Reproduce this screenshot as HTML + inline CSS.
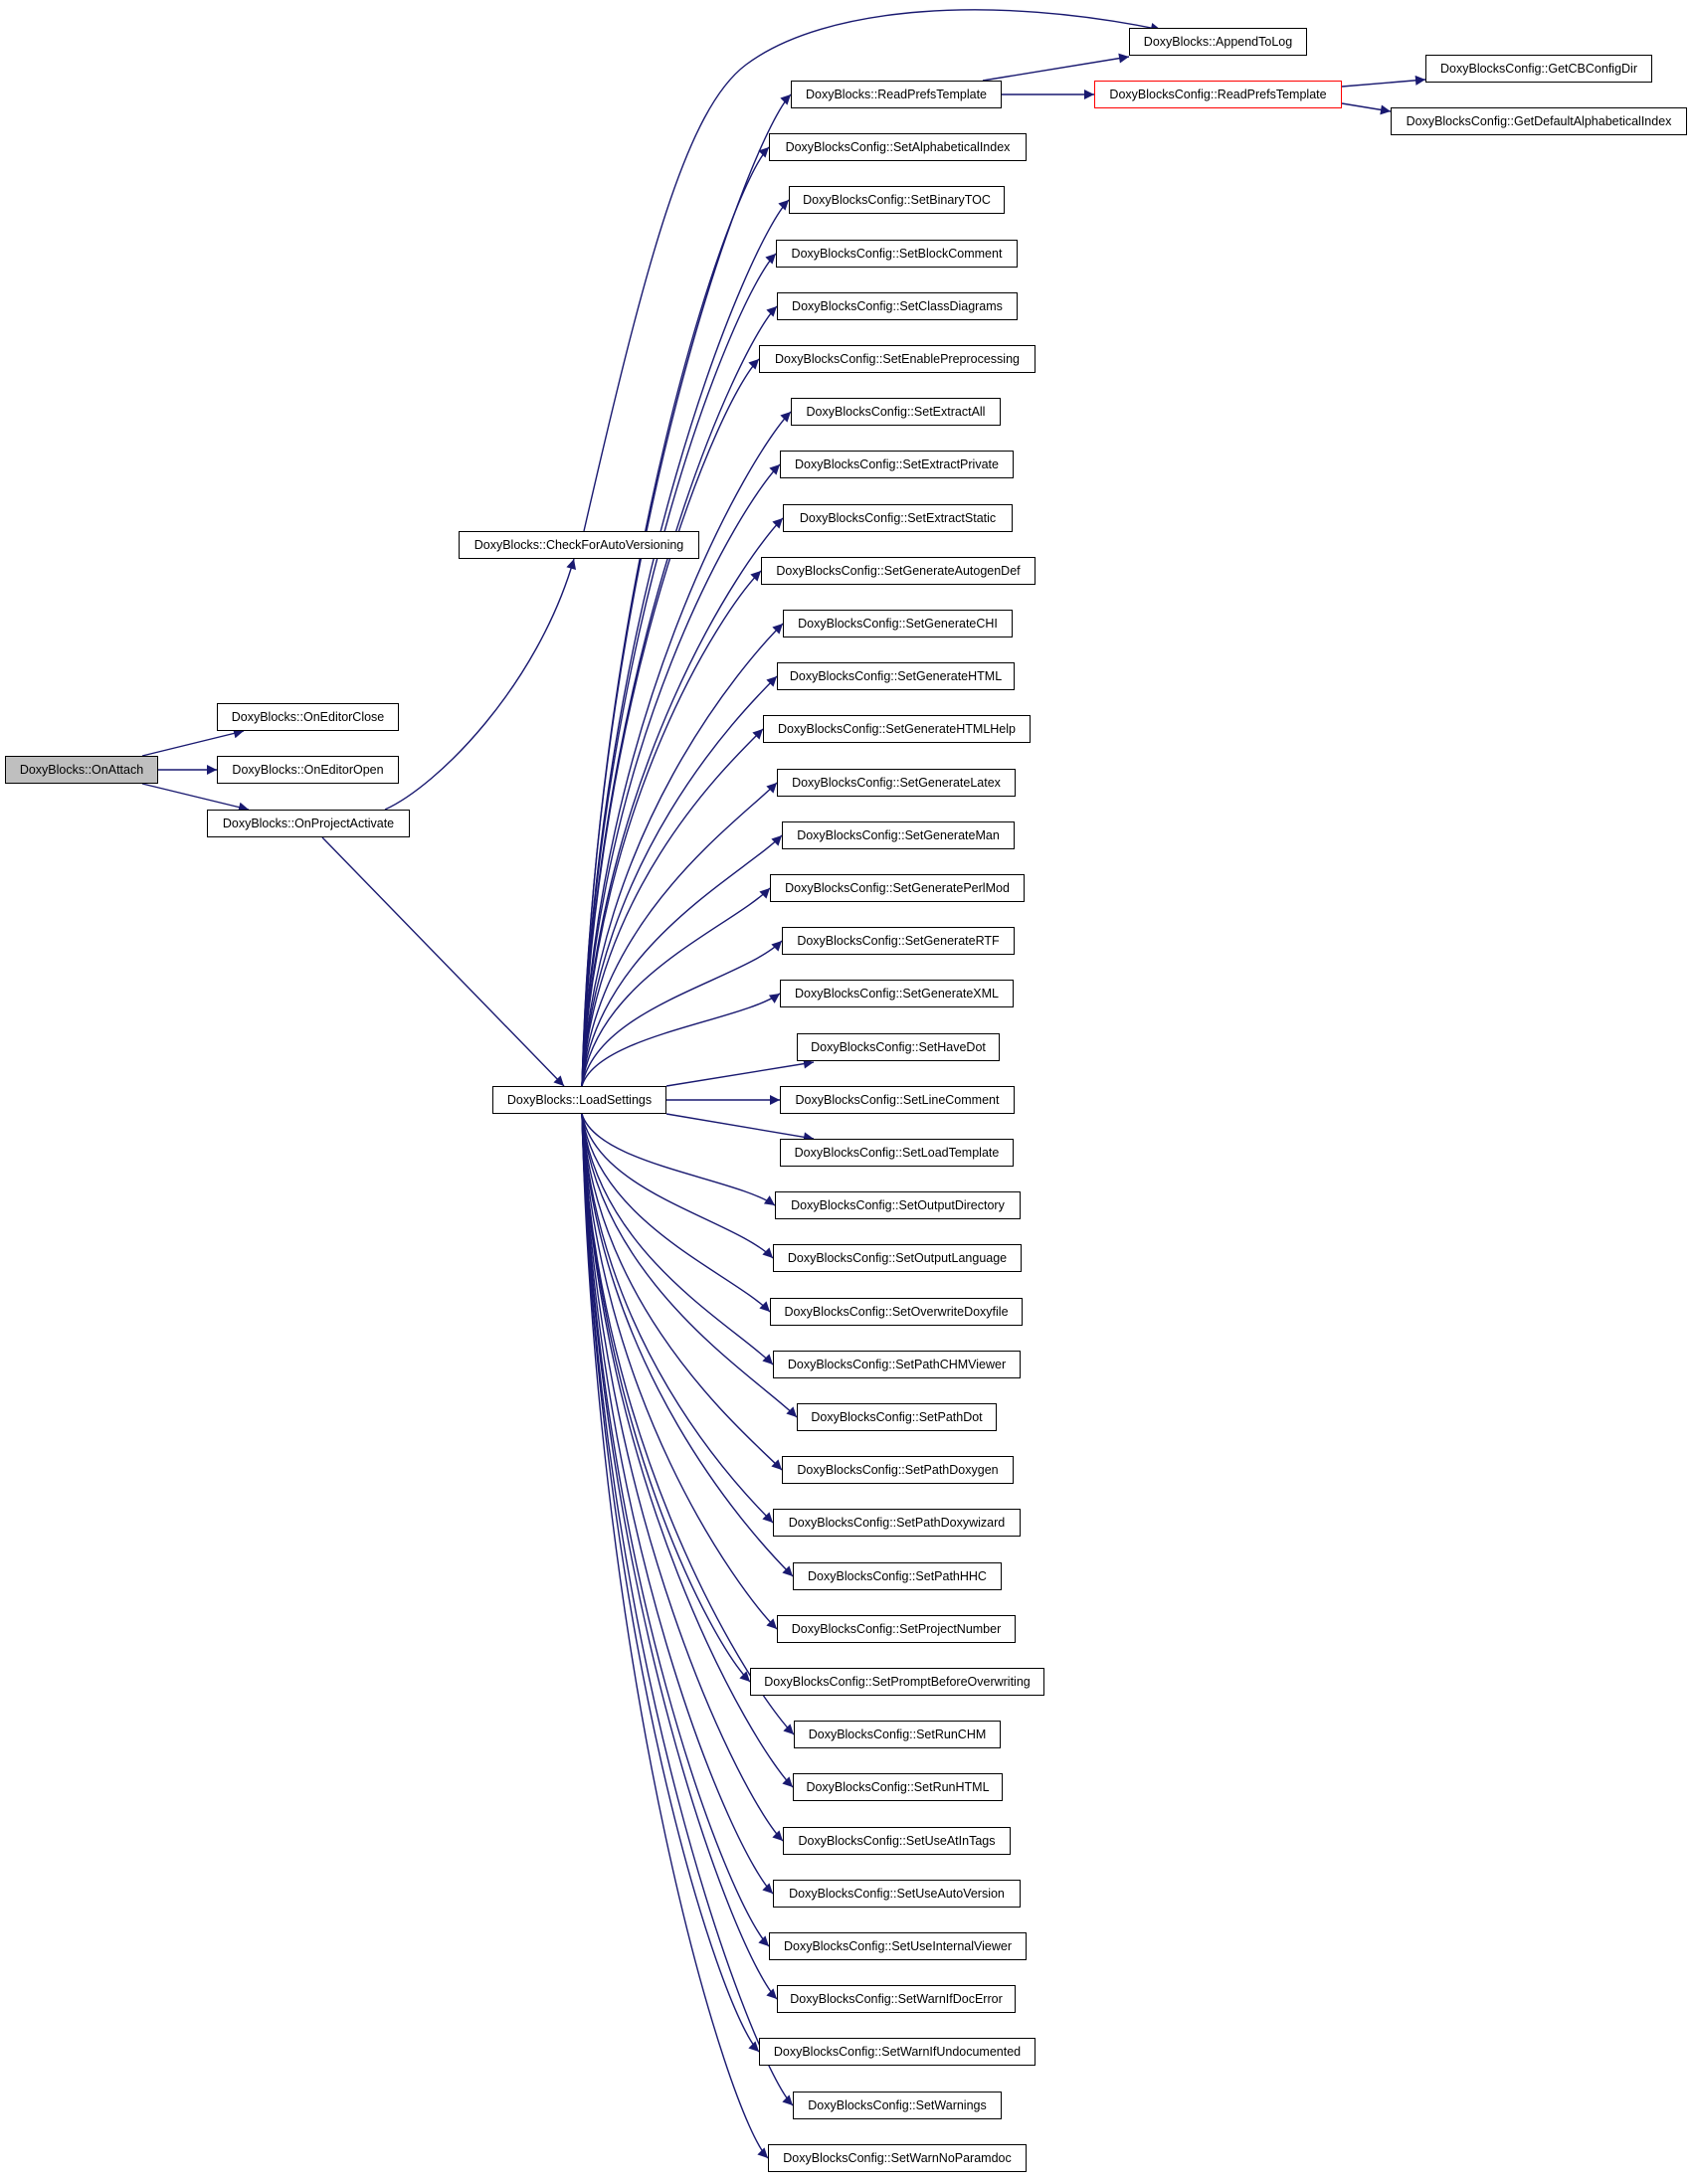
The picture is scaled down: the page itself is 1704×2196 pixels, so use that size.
<!DOCTYPE html>
<html><head><meta charset="utf-8"><style>
html,body{margin:0;padding:0;background:#fff;}
body{width:1704px;height:2196px;position:relative;overflow:hidden;}
svg{position:absolute;left:0;top:0;}
.b{position:absolute;height:28px;box-sizing:border-box;border:1px solid #000;background:#fff;font:12.5px "Liberation Sans",sans-serif;line-height:26px;text-align:center;white-space:nowrap;color:#000;}
</style></head><body>
<svg width="1704" height="2196" viewBox="0 0 1704 2196">
<defs><marker id="a" viewBox="0 0 10 10" refX="10" refY="5" markerWidth="14" markerHeight="10" markerUnits="userSpaceOnUse" orient="auto"><path d="M0,0 L10,5 L0,10 z" fill="#191970"/></marker></defs>
<g fill="none" stroke="#191970" stroke-width="1.4" marker-end="url(#a)">
<path d="M143,760 L245,735"/>
<path d="M159,774 L218,774"/>
<path d="M143,788 L250,814"/>
<path d="M387,814 C440,790 540,690 577,562"/>
<path d="M324,842 L567,1092"/>
<path d="M587,534 C650,260 690,110 750,65 C830,5 1000,-5 1167,30"/>
<path d="M988,81 L1135,57"/>
<path d="M1007,95 L1100,95"/>
<path d="M1349,87 L1433,80"/>
<path d="M1349,104 L1398,112"/>
<path d="M585,1092 C600,544 755,135 795,95"/>
<path d="M585,1092 C600,573 733,188 773,148"/>
<path d="M585,1092 C600,602 753,241 793,201"/>
<path d="M585,1092 C600,632 740,295 780,255"/>
<path d="M585,1092 C600,661 741,348 781,308"/>
<path d="M585,1092 C600,690 723,401 763,361"/>
<path d="M585,1092 C600,719 755,454 795,414"/>
<path d="M585,1092 C600,748 744,507 784,467"/>
<path d="M585,1092 C600,778 747,561 787,521"/>
<path d="M585,1092 C600,807 725,614 765,574"/>
<path d="M585,1092 C600,836 747,667 787,627"/>
<path d="M585,1092 C600,865 741,720 781,680"/>
<path d="M585,1092 C600,895 727,773 767,733"/>
<path d="M585,1092 C600,924 741,827 781,787"/>
<path d="M585,1092 C600,953 746,880 786,840"/>
<path d="M585,1092 C600,983 734,933 774,893"/>
<path d="M585,1092 C600,1012 746,986 786,946"/>
<path d="M585,1092 C600,1041 744,1027 784,999"/>
<path d="M670,1092 L818,1068"/>
<path d="M670,1106 L784,1106"/>
<path d="M670,1120 L818,1145"/>
<path d="M585,1120 C600,1171 739,1184 779,1212"/>
<path d="M585,1120 C600,1200 737,1225 777,1265"/>
<path d="M585,1120 C600,1229 734,1279 774,1319"/>
<path d="M585,1120 C600,1259 737,1332 777,1372"/>
<path d="M585,1120 C600,1288 761,1385 801,1425"/>
<path d="M585,1120 C600,1317 746,1438 786,1478"/>
<path d="M585,1120 C600,1346 737,1491 777,1531"/>
<path d="M585,1120 C600,1376 757,1545 797,1585"/>
<path d="M585,1120 C600,1405 741,1598 781,1638"/>
<path d="M585,1120 C600,1434 714,1651 754,1691"/>
<path d="M585,1120 C600,1463 758,1704 798,1744"/>
<path d="M585,1120 C600,1492 757,1757 797,1797"/>
<path d="M585,1120 C600,1522 747,1811 787,1851"/>
<path d="M585,1120 C600,1551 737,1864 777,1904"/>
<path d="M585,1120 C600,1580 733,1917 773,1957"/>
<path d="M585,1120 C600,1610 741,1970 781,2010"/>
<path d="M585,1120 C600,1639 723,2023 763,2063"/>
<path d="M585,1120 C600,1668 757,2077 797,2117"/>
<path d="M585,1120 C600,1698 732,2130 772,2170"/>
</g>
</svg>
<div class="b" style="left:5px;top:760px;width:154px;background:#bfbfbf;">DoxyBlocks::OnAttach</div>
<div class="b" style="left:218px;top:707px;width:183px;">DoxyBlocks::OnEditorClose</div>
<div class="b" style="left:218px;top:760px;width:183px;">DoxyBlocks::OnEditorOpen</div>
<div class="b" style="left:208px;top:814px;width:204px;">DoxyBlocks::OnProjectActivate</div>
<div class="b" style="left:461px;top:534px;width:242px;">DoxyBlocks::CheckForAutoVersioning</div>
<div class="b" style="left:495px;top:1092px;width:175px;">DoxyBlocks::LoadSettings</div>
<div class="b" style="left:1135px;top:28px;width:179px;">DoxyBlocks::AppendToLog</div>
<div class="b" style="left:1100px;top:81px;width:249px;border-color:#ff0000;">DoxyBlocksConfig::ReadPrefsTemplate</div>
<div class="b" style="left:1433px;top:55px;width:228px;">DoxyBlocksConfig::GetCBConfigDir</div>
<div class="b" style="left:1398px;top:108px;width:298px;">DoxyBlocksConfig::GetDefaultAlphabeticalIndex</div>
<div class="b" style="left:795px;top:81px;width:212px;">DoxyBlocks::ReadPrefsTemplate</div>
<div class="b" style="left:773px;top:134px;width:259px;">DoxyBlocksConfig::SetAlphabeticalIndex</div>
<div class="b" style="left:793px;top:187px;width:217px;">DoxyBlocksConfig::SetBinaryTOC</div>
<div class="b" style="left:780px;top:241px;width:243px;">DoxyBlocksConfig::SetBlockComment</div>
<div class="b" style="left:781px;top:294px;width:242px;">DoxyBlocksConfig::SetClassDiagrams</div>
<div class="b" style="left:763px;top:347px;width:278px;">DoxyBlocksConfig::SetEnablePreprocessing</div>
<div class="b" style="left:795px;top:400px;width:211px;">DoxyBlocksConfig::SetExtractAll</div>
<div class="b" style="left:784px;top:453px;width:235px;">DoxyBlocksConfig::SetExtractPrivate</div>
<div class="b" style="left:787px;top:507px;width:231px;">DoxyBlocksConfig::SetExtractStatic</div>
<div class="b" style="left:765px;top:560px;width:276px;">DoxyBlocksConfig::SetGenerateAutogenDef</div>
<div class="b" style="left:787px;top:613px;width:231px;">DoxyBlocksConfig::SetGenerateCHI</div>
<div class="b" style="left:781px;top:666px;width:239px;">DoxyBlocksConfig::SetGenerateHTML</div>
<div class="b" style="left:767px;top:719px;width:269px;">DoxyBlocksConfig::SetGenerateHTMLHelp</div>
<div class="b" style="left:781px;top:773px;width:240px;">DoxyBlocksConfig::SetGenerateLatex</div>
<div class="b" style="left:786px;top:826px;width:234px;">DoxyBlocksConfig::SetGenerateMan</div>
<div class="b" style="left:774px;top:879px;width:256px;">DoxyBlocksConfig::SetGeneratePerlMod</div>
<div class="b" style="left:786px;top:932px;width:234px;">DoxyBlocksConfig::SetGenerateRTF</div>
<div class="b" style="left:784px;top:985px;width:235px;">DoxyBlocksConfig::SetGenerateXML</div>
<div class="b" style="left:801px;top:1039px;width:204px;">DoxyBlocksConfig::SetHaveDot</div>
<div class="b" style="left:784px;top:1092px;width:236px;">DoxyBlocksConfig::SetLineComment</div>
<div class="b" style="left:784px;top:1145px;width:235px;">DoxyBlocksConfig::SetLoadTemplate</div>
<div class="b" style="left:779px;top:1198px;width:247px;">DoxyBlocksConfig::SetOutputDirectory</div>
<div class="b" style="left:777px;top:1251px;width:250px;">DoxyBlocksConfig::SetOutputLanguage</div>
<div class="b" style="left:774px;top:1305px;width:254px;">DoxyBlocksConfig::SetOverwriteDoxyfile</div>
<div class="b" style="left:777px;top:1358px;width:249px;">DoxyBlocksConfig::SetPathCHMViewer</div>
<div class="b" style="left:801px;top:1411px;width:201px;">DoxyBlocksConfig::SetPathDot</div>
<div class="b" style="left:786px;top:1464px;width:233px;">DoxyBlocksConfig::SetPathDoxygen</div>
<div class="b" style="left:777px;top:1517px;width:249px;">DoxyBlocksConfig::SetPathDoxywizard</div>
<div class="b" style="left:797px;top:1571px;width:210px;">DoxyBlocksConfig::SetPathHHC</div>
<div class="b" style="left:781px;top:1624px;width:240px;">DoxyBlocksConfig::SetProjectNumber</div>
<div class="b" style="left:754px;top:1677px;width:296px;">DoxyBlocksConfig::SetPromptBeforeOverwriting</div>
<div class="b" style="left:798px;top:1730px;width:208px;">DoxyBlocksConfig::SetRunCHM</div>
<div class="b" style="left:797px;top:1783px;width:211px;">DoxyBlocksConfig::SetRunHTML</div>
<div class="b" style="left:787px;top:1837px;width:229px;">DoxyBlocksConfig::SetUseAtInTags</div>
<div class="b" style="left:777px;top:1890px;width:249px;">DoxyBlocksConfig::SetUseAutoVersion</div>
<div class="b" style="left:773px;top:1943px;width:259px;">DoxyBlocksConfig::SetUseInternalViewer</div>
<div class="b" style="left:781px;top:1996px;width:240px;">DoxyBlocksConfig::SetWarnIfDocError</div>
<div class="b" style="left:763px;top:2049px;width:278px;">DoxyBlocksConfig::SetWarnIfUndocumented</div>
<div class="b" style="left:797px;top:2103px;width:210px;">DoxyBlocksConfig::SetWarnings</div>
<div class="b" style="left:772px;top:2156px;width:260px;">DoxyBlocksConfig::SetWarnNoParamdoc</div>
</body></html>
